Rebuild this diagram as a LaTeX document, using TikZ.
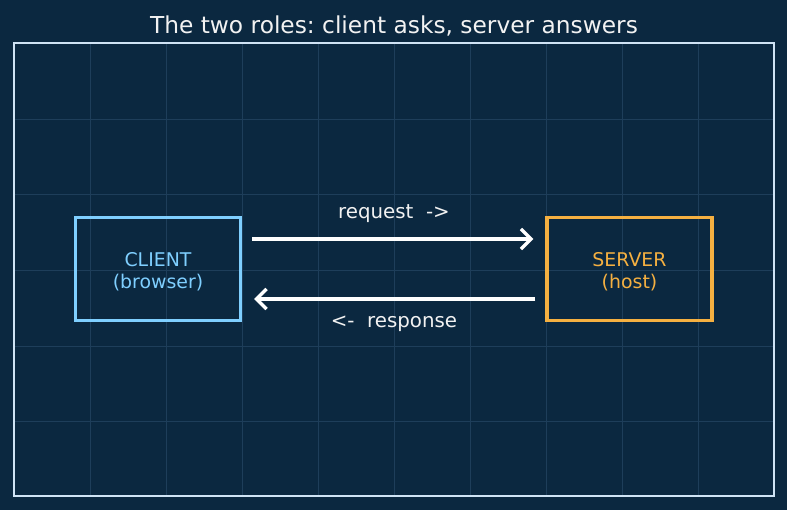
\documentclass[tikz,border=0pt]{standalone}
\usepackage{fontspec}
\setmainfont{DejaVu Sans}
\usetikzlibrary{arrows.meta}
\definecolor{bg}{HTML}{0B2840}
\definecolor{gridc}{HTML}{1E3E5A}
\definecolor{framec}{HTML}{CFE3F5}
\definecolor{clientc}{HTML}{7FCFFF}
\definecolor{serverc}{HTML}{F5B041}
\definecolor{txt}{HTML}{F2F2F2}
\frenchspacing
\newcommand{\lowr}[1]{\raisebox{-2.5pt}[\height][\depth]{#1}}
\tikzset{
  rolebox/.style={draw, line width=3.3pt, minimum width=165pt, minimum height=103pt, align=center, font=\fontsize{18.9}{22}\selectfont, inner sep=0pt},
  flow/.style={line width=3.4pt, color=white, -{Straight Barb[length=10pt,width=20pt,line width=3.4pt]}},
  flowlabel/.style={text=txt, font=\fontsize{19.8}{22}\selectfont, inner sep=0pt}
}
\begin{document}
\begin{tikzpicture}[x=1pt,y=-1pt]
\fill[bg] (0,0) rectangle (787,510);
\useasboundingbox (0,0) rectangle (787,510);
% grid
\foreach \gx in {90,166,242,318,394,470,546,622,698} \draw[gridc, line width=0.8pt] (\gx,43) -- (\gx,496);
\foreach \gy in {119,194.5,270,346,421} \draw[gridc, line width=0.8pt] (14,\gy) -- (774,\gy);
\draw[framec, line width=1.6pt] (14,43) rectangle (774,496);
\node[text=txt, font=\fontsize{23.3}{26}\selectfont] (title) at (394,26) {The two roles: client asks, server answers};
\node[rolebox, draw=clientc, text=clientc] (client) at (158,269) {\lowr{CLIENT}\\\lowr{(browser)}};
\node[rolebox, draw=serverc, text=serverc] (server) at (629.5,269) {\lowr{SERVER}\\\lowr{(host)}};
\coordinate (c1) at ([yshift=30pt,xshift=10pt]client.east);
\coordinate (s1) at ([yshift=30pt,xshift=-12pt]server.west);
\coordinate (c2) at ([yshift=-30pt,xshift=12pt]client.east);
\coordinate (s2) at ([yshift=-30pt,xshift=-10pt]server.west);
\draw[flow] (c1) -- (s1);
\draw[flow] (s2) -- (c2);
\node[flowlabel] (req) at (394,214) {request\ \ ->};
\node[flowlabel] (resp) at (394,324) {<-\ \ response};
\end{tikzpicture}
\end{document}
